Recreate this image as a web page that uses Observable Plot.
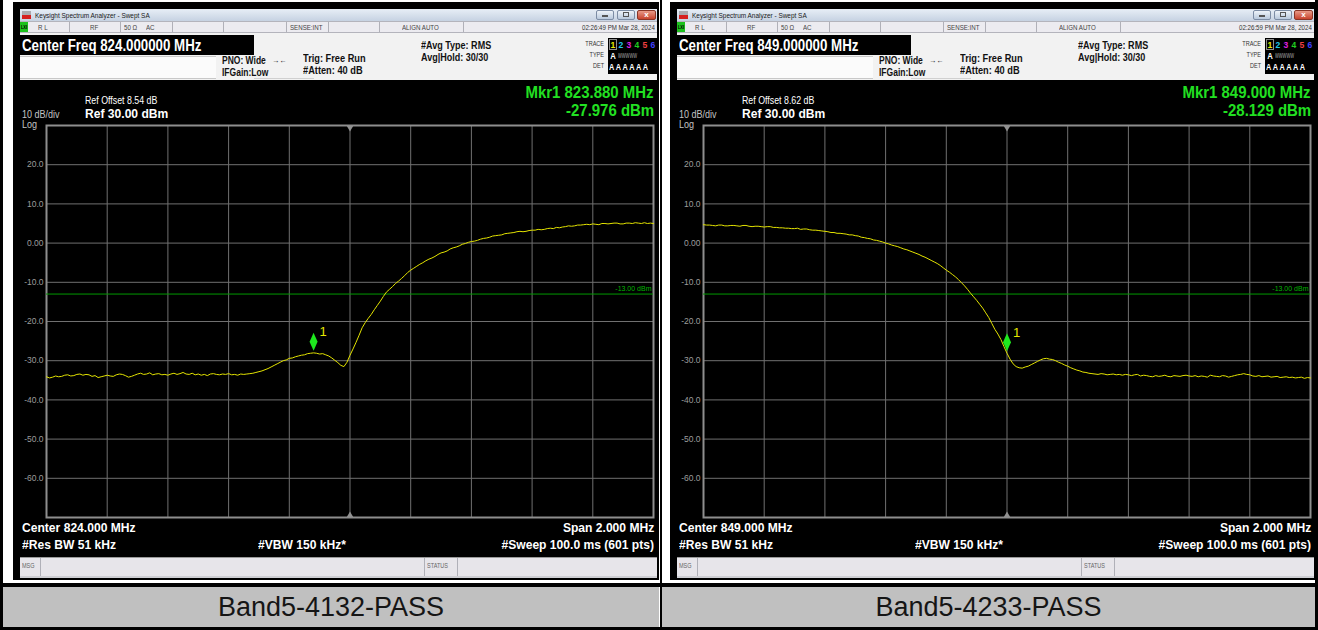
<!DOCTYPE html>
<html><head><meta charset="utf-8">
<script src="https://cdn.jsdelivr.net/npm/d3@7"></script>
<script src="https://cdn.jsdelivr.net/npm/@observablehq/plot@0.6"></script>
<style>
html,body{margin:0;padding:0;background:#fff;}
#root{position:relative;width:1318px;height:630px;overflow:hidden;background:#fff;}
.a{position:absolute;white-space:nowrap;line-height:1;}
</style></head><body><div id="root"></div>
<script>
// ---------------- DATA ----------------
const captions = ["Band5-4132-PASS", "Band5-4233-PASS"];
const centerFreqs = [824, 849];            // MHz
const spanMHz = 2;
const stepMHz = 0.01;                        // sampled sweep step
const refOffsets = ["8.54", "8.62"];
const timestamps = ["02:26:49 PM Mar 28, 2024", "02:26:59 PM Mar 28, 2024"];
const markerFreqs = [823.880, 849.000];
const markerValues = [-27.976, -28.129];
const limitLine = -13;
const limitLabel = "-13.00 dBm";
const yTicks = [20, 10, 0, -10, -20, -30, -40, -50, -60];
const yDomain = [-70, 30];

// trace values (dBm), 823..825 MHz
const traceLeft = [
  -34.1, -34.4, -34.2, -33.9, -34.1, -34.0, -33.7, -33.6, -33.9, -33.8,
  -33.5, -33.4, -33.7, -33.5, -33.6, -34.0, -33.8, -34.3, -34.1, -33.9,
  -33.7, -33.9, -34.0, -33.6, -33.4, -33.5, -33.8, -34.2, -34.0, -33.7,
  -33.4, -33.2, -33.5, -33.4, -33.1, -33.6, -33.4, -33.3, -33.6, -33.5,
  -33.7, -33.4, -33.2, -33.5, -33.3, -33.0, -33.4, -33.5, -33.2, -33.6,
  -33.4, -33.7, -33.5, -33.8, -33.4, -33.3, -33.5, -33.6, -33.4, -33.5,
  -33.3, -33.6, -33.5, -33.7, -33.4, -33.5,
  -33.4, -33.3, -33.2, -33.0, -32.8, -32.6, -32.3, -32.0, -31.6, -31.2,
  -30.8, -30.4, -30.0, -29.8, -29.4, -29.3, -29.0, -28.8, -28.6, -28.5,
  -28.2, -28.1, -28.0, -28.1, -28.3, -28.2, -28.5, -28.8, -29.3, -29.9,
  -30.5, -31.2, -31.5, -30.4,
  -28.6, -27.0, -25.3, -23.5, -21.6, -20.3, -19.2, -18.2, -17.0, -15.9,
  -14.8, -13.6, -12.5, -11.8, -11.1, -10.3, -9.7, -9.0, -8.3, -7.5,
  -6.9, -6.4, -5.9, -5.4, -5.0, -4.5, -4.1, -3.8, -3.4, -2.9,
  -2.5, -2.3, -2.0, -1.5, -1.2, -1.0, -0.7, -0.3, -0.1, 0.2,
  0.4, 0.5, 0.7, 1.0, 1.2, 1.3, 1.5, 1.8, 1.9, 2.0,
  2.1, 2.4, 2.5, 2.6, 2.7, 2.9, 3.0, 2.9, 3.0, 3.2,
  3.3, 3.3, 3.5, 3.4, 3.5, 3.7, 3.8, 3.7, 4.0, 3.9,
  4.1, 4.2, 4.4, 4.3, 4.4, 4.6, 4.6, 4.7, 4.8, 4.7,
  4.9, 4.8, 4.7, 5.0, 5.0, 4.9, 5.0, 5.1, 5.1, 4.9,
  4.9, 5.1, 5.1, 5.0, 5.2, 5.1, 5.0, 5.2, 5.0, 5.1,
  5.0
];
// trace values (dBm), 848..850 MHz
const traceRight = [
  4.7, 4.6, 4.6, 4.5, 4.4, 4.6, 4.6, 4.4, 4.4, 4.5,
  4.5, 4.4, 4.3, 4.5, 4.5, 4.3, 4.2, 4.3, 4.3, 4.2, 4.1,
  4.2, 4.2, 4.0, 4.0, 3.9, 3.9, 3.8, 3.8, 3.7, 3.7,
  3.8, 3.5, 3.6, 3.6, 3.4, 3.3, 3.3, 3.2, 3.1, 3.0,
  2.9, 2.7, 2.7, 2.5, 2.5, 2.4, 2.3, 2.1, 2.1, 1.9,
  1.8, 1.5, 1.4, 1.2, 1.1, 0.8, 0.7, 0.5, 0.3, 0.0,
  -0.2, -0.5, -0.7, -0.9, -1.2, -1.5, -1.7, -2.0, -2.3, -2.6,
  -2.9, -3.3, -3.6, -4.0, -4.4, -4.8, -5.2, -5.7, -6.3, -6.9,
  -7.4, -8.0, -8.6, -9.3, -10.1, -10.9, -11.8, -12.8, -13.7, -14.6,
  -15.6, -16.6, -17.8, -19.0, -20.5, -22.0, -23.2, -24.6, -26.4, -28.1,
  -29.6, -30.8, -31.5, -31.8, -31.9, -31.6, -31.4, -31.0, -30.6, -30.2,
  -29.8, -29.5, -29.4, -29.6, -29.7, -30.0, -30.4, -30.7, -31.1, -31.4,
  -31.8, -32.1, -32.4, -32.6, -32.9, -33.0, -33.2, -33.3, -33.4, -33.5,
  -33.3, -33.4, -33.6, -33.5, -33.4, -33.6, -33.5, -33.7, -33.5, -33.6,
  -33.8, -33.6, -33.5, -33.9, -33.7, -33.8, -34.0, -34.1, -33.8, -34.0,
  -33.9, -33.7, -34.0, -34.1, -33.8, -33.9, -34.0, -33.8, -33.7, -33.9,
  -34.0, -33.8, -34.1, -33.9, -34.0, -34.2, -33.7, -33.9, -34.0, -34.1,
  -33.8, -33.9, -34.2, -34.0, -33.8, -33.6, -33.5, -33.3, -33.5, -33.6,
  -33.9, -34.0, -33.8, -34.1, -34.0, -33.9, -34.2, -34.1, -34.0, -34.3,
  -34.2, -34.1, -34.3, -34.2, -34.4, -34.3, -34.2, -34.5, -34.3, -34.4
];
const traces = [traceLeft, traceRight];

// ---------------- RENDER ----------------
const W = 1318;
const FONT = '"Liberation Sans", Arial, sans-serif';
const root = document.getElementById("root");

function box(x, y, w, h, st) {
  const d = document.createElement("div");
  d.className = "a";
  Object.assign(d.style, {left: x + "px", top: y + "px", width: w + "px", height: h + "px", boxSizing: "border-box"}, st || {});
  root.appendChild(d);
  return d;
}
function txt(s, x, y, size, o = {}) {
  const d = document.createElement("div");
  d.className = "a";
  d.textContent = s;
  d.style.fontSize = size + "px";
  d.style.fontFamily = o.family || FONT;
  d.style.fontWeight = o.bold ? "bold" : "normal";
  d.style.color = o.color || "#000";
  if (o.lh) { d.style.lineHeight = o.lh + "px"; d.style.top = (y - o.lh / 2) + "px"; }
  else d.style.top = (y - size * 0.5) + "px";
  const sx = o.sx == null ? 1 : o.sx;
  if (o.anchor === "end") {
    d.style.right = (W - x) + "px"; d.style.transformOrigin = "100% 50%"; d.style.transform = `scaleX(${sx})`;
  } else if (o.anchor === "middle") {
    d.style.left = x + "px"; d.style.transformOrigin = "50% 50%"; d.style.transform = `translateX(-50%) scaleX(${sx})`;
  } else {
    d.style.left = x + "px"; d.style.transformOrigin = "0 50%"; d.style.transform = `scaleX(${sx})`;
  }
  root.appendChild(d);
  return d;
}

const tallDiamond = {draw(ctx) { ctx.moveTo(0, -9); ctx.lineTo(4, 0); ctx.lineTo(0, 9); ctx.lineTo(-4, 0); ctx.closePath(); }};
const triDown = {draw(ctx) { ctx.moveTo(-3.5, 0); ctx.lineTo(3.5, 0); ctx.lineTo(0, 6); ctx.closePath(); }};
const triUp = {draw(ctx) { ctx.moveTo(-3.5, 0); ctx.lineTo(3.5, 0); ctx.lineTo(0, -6); ctx.closePath(); }};

function makePlot(k) {
  const c = centerFreqs[k];
  const f0 = c - spanMHz / 2;
  const trace = traces[k].map((v, i) => ({f: f0 + i * stepMHz, v}));
  const xGrid = d3.range(1, 10).map(j => f0 + j * spanMHz / 10);
  const marker = [{f: markerFreqs[k], v: markerValues[k]}];
  return Plot.plot({
    width: 644, height: 404,
    marginLeft: 32, marginRight: 5, marginTop: 7, marginBottom: 5,
    style: {background: "#000", color: "#9c9c9c", fontFamily: FONT, fontSize: "8.5px", overflow: "visible"},
    x: {domain: [f0, f0 + spanMHz], axis: null},
    y: {domain: yDomain, ticks: yTicks, tickFormat: d => d === 0 ? "0.00" : d.toFixed(1), tickSize: 0, tickPadding: 3, label: null},
    marks: [
      Plot.ruleX(xGrid, {stroke: "#707070", strokeWidth: 1}),
      Plot.ruleY(yTicks, {stroke: "#707070", strokeWidth: 1}),
      Plot.frame({stroke: "#8e8e8e", strokeWidth: 2}),
      Plot.dot([c], {x: d => d, y: () => yDomain[1], symbol: triDown, fill: "#909090", stroke: "none"}),
      Plot.dot([c], {x: d => d, y: () => yDomain[0], symbol: triUp, fill: "#909090", stroke: "none"}),
      Plot.ruleY([limitLine], {stroke: "#009a00", strokeWidth: 1}),
      Plot.text([limitLine], {x: () => f0 + spanMHz, y: d => d, text: () => limitLabel, textAnchor: "end", dx: -2, dy: -5, fill: "#00b400", fontSize: 7}),
      Plot.line(trace, {x: "f", y: "v", stroke: "#e4e400", strokeWidth: 1}),
      Plot.dot(marker, {x: "f", y: "v", symbol: tallDiamond, fill: "#1ee81e", stroke: "none", dy: -11}),
      Plot.text(marker, {x: "f", y: "v", text: () => "1", dx: 6, dy: -21, fill: "#e6e600", fontSize: 13, textAnchor: "start"})
    ]
  });
}

function buildPanel(k) {
  const X = k * 657;
  const c = centerFreqs[k];
  // black screenshot frame
  box(13 + X, 2, 646, 578, {background: "#000"});
  // title bar
  box(20 + X, 9, 637, 12, {background: "linear-gradient(#e7eef6,#c6d2e2)"});
  box(22 + X, 11, 9, 8, {background: "linear-gradient(#a9aab0 0,#a9aab0 55%,#d62020 55%)"});
  txt("Keysight Spectrum Analyzer - Swept SA", 35 + X, 15.5, 7.5, {sx: 0.86, color: "#1a1a1a"});
  box(596 + X, 10, 18, 10, {background: "linear-gradient(#eef3f9,#b9c9dd)", border: "1px solid #7c8ca4", borderRadius: "2px"});
  box(617 + X, 10, 18, 10, {background: "linear-gradient(#eef3f9,#b9c9dd)", border: "1px solid #7c8ca4", borderRadius: "2px"});
  box(637 + X, 10, 19, 10, {background: "linear-gradient(#e89a88,#c8442e)", border: "1px solid #8a3526", borderRadius: "2px"});
  txt("x", 646.5 + X, 14.5, 8, {anchor: "middle", color: "#fff", bold: true});
  box(602 + X, 15, 6, 2, {background: "#555"});
  box(623 + X, 12, 6, 5, {border: "1px solid #555"});
  // status row
  box(20 + X, 21, 637, 12, {background: "#ecebf0", borderTop: "1px solid #b4b4bc", borderBottom: "1px solid #b4b4bc"});
  box(20 + X, 22, 8, 10, {background: "#1cc21c"});
  txt("LXI", 24 + X, 27, 5, {anchor: "middle", color: "#000", bold: true, sx: 0.8});
  [69, 120, 172, 223, 286, 328, 379, 463].forEach(s => box(s + X, 22, 1, 10, {background: "#b0b0b8"}));
  [["R L", 38], ["RF", 90], ["50 Ω", 124], ["AC", 146], ["SENSE:INT", 290], ["ALIGN AUTO", 402]]
    .forEach(([s, x]) => txt(s, x + X, 27.5, 7.5, {sx: 0.82, color: "#444"}));
  txt(timestamps[k], 655 + X, 27.5, 7.5, {anchor: "end", sx: 0.82, color: "#333"});
  // header
  box(20 + X, 33, 637, 47, {background: "#f2f2f2"});
  box(20 + X, 35, 234, 20, {background: "#000"});
  box(20 + X, 56, 196, 23, {background: "#fbfbfb", borderTop: "1px solid #c8c8c8", borderBottom: "1px solid #c8c8c8"});
  box(254 + X, 56, 60, 23, {borderBottom: "1px solid #d0d0d0"});
  txt(`Center Freq ${c.toFixed(6)} MHz`, 22 + X, 46, 16, {bold: true, color: "#fff", sx: 0.83});
  txt("PNO: Wide", 222 + X, 61, 10, {bold: true, sx: 0.85, color: "#111"});
  txt("IFGain:Low", 222 + X, 72.5, 10, {bold: true, sx: 0.85, color: "#111"});
  txt("→←", 272 + X, 61, 8, {sx: 0.9, color: "#111"});
  txt("Trig: Free Run", 303 + X, 58, 11, {bold: true, sx: 0.84, color: "#111"});
  txt("#Atten: 40 dB", 303 + X, 70.5, 11, {bold: true, sx: 0.84, color: "#111"});
  txt("#Avg Type: RMS", 421 + X, 45, 11, {bold: true, sx: 0.82, color: "#111"});
  txt("Avg|Hold: 30/30", 421 + X, 57.5, 11, {bold: true, sx: 0.82, color: "#111"});
  txt("TRACE", 604 + X, 44, 6.5, {anchor: "end", sx: 0.85, color: "#333"});
  txt("TYPE", 604 + X, 55.5, 6.5, {anchor: "end", sx: 0.85, color: "#333"});
  txt("DET", 604 + X, 66.5, 6.5, {anchor: "end", sx: 0.85, color: "#333"});
  box(608 + X, 38, 49, 36, {background: "#000"});
  box(609 + X, 39, 8, 11, {border: "1px solid #8a8a8a"});
  [["1", "#e8e800"], ["2", "#20c8e8"], ["3", "#e020e0"], ["4", "#20d020"], ["5", "#f04040"], ["6", "#4040ff"]]
    .forEach(([s, col], j) => txt(s, 613 + j * 7.9 + X, 44.5, 9.5, {anchor: "middle", bold: true, color: col, sx: 0.9}));
  txt("A", 613 + X, 56, 8.5, {anchor: "middle", bold: true, color: "#fff", sx: 0.9});
  txt("WWWWW", 618 + X, 56, 6.5, {color: "#aaa", sx: 0.62});
  txt("A A A A A A", 609 + X, 67, 8.5, {bold: true, color: "#fff", sx: 0.86});
  // plot
  const svg = makePlot(k);
  svg.style.position = "absolute";
  svg.style.left = (14 + X) + "px";
  svg.style.top = "118px";
  root.appendChild(svg);
  // display texts
  txt(`Mkr1 ${markerFreqs[k].toFixed(3)} MHz`, 654 + X, 92, 17, {anchor: "end", bold: true, color: "#22e022", sx: 0.88});
  txt(`${markerValues[k].toFixed(3)} dBm`, 654 + X, 110, 17, {anchor: "end", bold: true, color: "#22e022", sx: 0.88});
  txt(`Ref Offset ${refOffsets[k]} dB`, 85 + X, 100, 10.5, {color: "#fff", sx: 0.84});
  txt("Ref 30.00 dBm", 85 + X, 113, 13, {bold: true, color: "#fff", sx: 0.93});
  txt("10 dB/div", 22 + X, 114.6, 10, {color: "#c4c4c4", sx: 0.9, lh: 8});
  txt("Log", 22 + X, 124.8, 10, {color: "#c4c4c4", sx: 0.9, lh: 8});
  txt(`Center ${c.toFixed(3)} MHz`, 22 + X, 527, 13, {bold: true, color: "#fff", sx: 0.93});
  txt(`Span ${spanMHz.toFixed(3)} MHz`, 654 + X, 527, 13, {anchor: "end", bold: true, color: "#fff", sx: 0.93});
  txt("#Res BW 51 kHz", 22 + X, 544, 13, {bold: true, color: "#fff", sx: 0.93});
  txt("#VBW 150 kHz*", 258 + X, 544, 13, {bold: true, color: "#fff", sx: 0.93});
  txt("#Sweep  100.0 ms (601 pts)", 654 + X, 544, 13, {anchor: "end", bold: true, color: "#fff", sx: 0.93});
  // message bar
  box(20 + X, 557, 637, 19, {background: "#e7e5ea", borderTop: "1px solid #9a9a9a"});
  box(20 + X, 576, 637, 2, {background: "#cfcfd4"});
  box(40 + X, 558, 1, 18, {background: "#b0b0b8"});
  box(424 + X, 558, 1, 18, {background: "#b0b0b8"});
  box(457 + X, 558, 1, 18, {background: "#b0b0b8"});
  txt("MSG", 22 + X, 566.5, 6.5, {color: "#666", sx: 0.85});
  txt("STATUS", 427 + X, 566.5, 6.5, {color: "#666", sx: 0.85});
  // caption cell
  box(k === 0 ? 3 : 661, 587, k === 0 ? 656 : 655, 40, {background: "#c0c0c0"});
  txt(captions[k], (k === 0 ? 331 : 988.5), 607, 27, {anchor: "middle", color: "#151515"});
}

buildPanel(0);
buildPanel(1);
// table lines
box(0, 0, 3, 630, {background: "#000"});
box(659.5, 0, 2, 630, {background: "#000"});
box(1315, 0, 3, 630, {background: "#000"});
box(0, 583, 1318, 4, {background: "#000"});
box(0, 627, 1318, 3, {background: "#000"});
</script></body></html>
